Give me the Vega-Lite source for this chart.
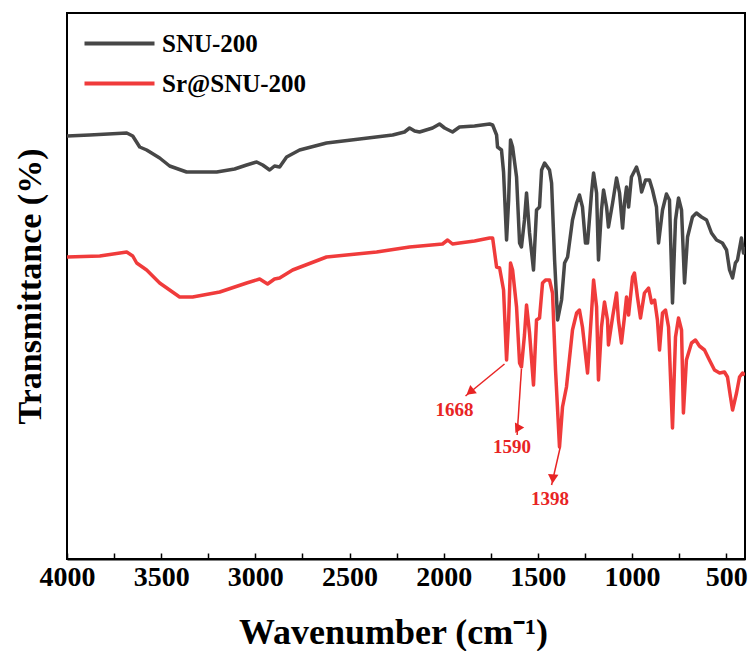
{
  "$schema": "https://vega.github.io/schema/vega-lite/v6.json",
  "width": 678,
  "height": 546,
  "autosize": "none",
  "padding": {"left": 67, "top": 13, "right": 6, "bottom": 92},
  "background": "white",
  "config": {
    "view": {"stroke": "black", "strokeWidth": 2},
    "font": "Liberation Serif",
    "axis": {"labelFont": "Liberation Serif", "titleFont": "Liberation Serif"},
    "legend": {"labelFont": "Liberation Serif"}
  },
  "datasets": {
    "spectra": [
      {"series":"SNU-200","wn":4000,"t":423},{"series":"SNU-200","wn":3880,"t":424},{"series":"SNU-200","wn":3683,"t":426},{"series":"SNU-200","wn":3651,"t":423},{"series":"SNU-200","wn":3614,"t":412},{"series":"SNU-200","wn":3577,"t":409},{"series":"SNU-200","wn":3508,"t":401},{"series":"SNU-200","wn":3455,"t":393},{"series":"SNU-200","wn":3365,"t":387},{"series":"SNU-200","wn":3205,"t":387},{"series":"SNU-200","wn":3110,"t":390},{"series":"SNU-200","wn":3046,"t":394},{"series":"SNU-200","wn":2993,"t":397},{"series":"SNU-200","wn":2961,"t":394},{"series":"SNU-200","wn":2924,"t":389},{"series":"SNU-200","wn":2898,"t":393},{"series":"SNU-200","wn":2871,"t":392},{"series":"SNU-200","wn":2834,"t":402},{"series":"SNU-200","wn":2765,"t":409},{"series":"SNU-200","wn":2622,"t":416},{"series":"SNU-200","wn":2446,"t":420},{"series":"SNU-200","wn":2271,"t":424},{"series":"SNU-200","wn":2208,"t":427},{"series":"SNU-200","wn":2181,"t":431},{"series":"SNU-200","wn":2154,"t":428},{"series":"SNU-200","wn":2128,"t":427},{"series":"SNU-200","wn":2059,"t":431},{"series":"SNU-200","wn":2022,"t":435},{"series":"SNU-200","wn":1995,"t":431},{"series":"SNU-200","wn":1953,"t":427},{"series":"SNU-200","wn":1916,"t":432},{"series":"SNU-200","wn":1836,"t":433},{"series":"SNU-200","wn":1756,"t":435},{"series":"SNU-200","wn":1740,"t":434},{"series":"SNU-200","wn":1719,"t":424},{"series":"SNU-200","wn":1714,"t":412},{"series":"SNU-200","wn":1693,"t":409},{"series":"SNU-200","wn":1682,"t":387},{"series":"SNU-200","wn":1666,"t":319},{"series":"SNU-200","wn":1655,"t":359},{"series":"SNU-200","wn":1645,"t":419},{"series":"SNU-200","wn":1634,"t":412},{"series":"SNU-200","wn":1613,"t":382},{"series":"SNU-200","wn":1597,"t":316},{"series":"SNU-200","wn":1587,"t":312},{"series":"SNU-200","wn":1571,"t":339},{"series":"SNU-200","wn":1560,"t":366},{"series":"SNU-200","wn":1544,"t":326},{"series":"SNU-200","wn":1523,"t":289},{"series":"SNU-200","wn":1507,"t":349},{"series":"SNU-200","wn":1491,"t":352},{"series":"SNU-200","wn":1480,"t":389},{"series":"SNU-200","wn":1464,"t":396},{"series":"SNU-200","wn":1438,"t":389},{"series":"SNU-200","wn":1427,"t":376},{"series":"SNU-200","wn":1411,"t":299},{"series":"SNU-200","wn":1395,"t":239},{"series":"SNU-200","wn":1374,"t":259},{"series":"SNU-200","wn":1358,"t":296},{"series":"SNU-200","wn":1342,"t":302},{"series":"SNU-200","wn":1316,"t":339},{"series":"SNU-200","wn":1294,"t":356},{"series":"SNU-200","wn":1279,"t":364},{"series":"SNU-200","wn":1263,"t":352},{"series":"SNU-200","wn":1247,"t":316},{"series":"SNU-200","wn":1236,"t":316},{"series":"SNU-200","wn":1215,"t":366},{"series":"SNU-200","wn":1204,"t":386},{"series":"SNU-200","wn":1188,"t":366},{"series":"SNU-200","wn":1178,"t":299},{"series":"SNU-200","wn":1162,"t":349},{"series":"SNU-200","wn":1151,"t":369},{"series":"SNU-200","wn":1135,"t":352},{"series":"SNU-200","wn":1125,"t":332},{"series":"SNU-200","wn":1103,"t":356},{"series":"SNU-200","wn":1082,"t":381},{"series":"SNU-200","wn":1066,"t":366},{"series":"SNU-200","wn":1050,"t":331},{"series":"SNU-200","wn":1040,"t":356},{"series":"SNU-200","wn":1029,"t":372},{"series":"SNU-200","wn":1018,"t":352},{"series":"SNU-200","wn":1003,"t":382},{"series":"SNU-200","wn":976,"t":392},{"series":"SNU-200","wn":960,"t":382},{"series":"SNU-200","wn":949,"t":367},{"series":"SNU-200","wn":928,"t":379},{"series":"SNU-200","wn":907,"t":379},{"series":"SNU-200","wn":891,"t":369},{"series":"SNU-200","wn":870,"t":352},{"series":"SNU-200","wn":859,"t":316},{"series":"SNU-200","wn":838,"t":349},{"series":"SNU-200","wn":817,"t":365},{"series":"SNU-200","wn":801,"t":359},{"series":"SNU-200","wn":785,"t":256},{"series":"SNU-200","wn":769,"t":339},{"series":"SNU-200","wn":753,"t":361},{"series":"SNU-200","wn":737,"t":349},{"series":"SNU-200","wn":721,"t":276},{"series":"SNU-200","wn":705,"t":322},{"series":"SNU-200","wn":679,"t":342},{"series":"SNU-200","wn":658,"t":346},{"series":"SNU-200","wn":631,"t":342},{"series":"SNU-200","wn":604,"t":339},{"series":"SNU-200","wn":578,"t":326},{"series":"SNU-200","wn":551,"t":319},{"series":"SNU-200","wn":520,"t":316},{"series":"SNU-200","wn":498,"t":309},{"series":"SNU-200","wn":482,"t":289},{"series":"SNU-200","wn":466,"t":281},{"series":"SNU-200","wn":451,"t":296},{"series":"SNU-200","wn":440,"t":299},{"series":"SNU-200","wn":419,"t":321},{"series":"SNU-200","wn":408,"t":306},{"series":"SNU-200","wn":400,"t":312},
      {"series":"Sr@SNU-200","wn":4000,"t":302},{"series":"Sr@SNU-200","wn":3826,"t":303},{"series":"Sr@SNU-200","wn":3683,"t":307},{"series":"Sr@SNU-200","wn":3651,"t":303},{"series":"Sr@SNU-200","wn":3630,"t":296},{"series":"Sr@SNU-200","wn":3577,"t":289},{"series":"Sr@SNU-200","wn":3508,"t":276},{"series":"Sr@SNU-200","wn":3402,"t":262},{"series":"Sr@SNU-200","wn":3333,"t":262},{"series":"Sr@SNU-200","wn":3189,"t":267},{"series":"Sr@SNU-200","wn":3046,"t":276},{"series":"Sr@SNU-200","wn":2977,"t":280},{"series":"Sr@SNU-200","wn":2935,"t":275},{"series":"Sr@SNU-200","wn":2898,"t":280},{"series":"Sr@SNU-200","wn":2871,"t":281},{"series":"Sr@SNU-200","wn":2802,"t":289},{"series":"Sr@SNU-200","wn":2622,"t":302},{"series":"Sr@SNU-200","wn":2356,"t":307},{"series":"Sr@SNU-200","wn":2181,"t":312},{"series":"Sr@SNU-200","wn":2006,"t":315},{"series":"Sr@SNU-200","wn":1979,"t":319},{"series":"Sr@SNU-200","wn":1953,"t":315},{"series":"Sr@SNU-200","wn":1916,"t":316},{"series":"Sr@SNU-200","wn":1836,"t":318},{"series":"Sr@SNU-200","wn":1756,"t":321},{"series":"Sr@SNU-200","wn":1740,"t":321},{"series":"Sr@SNU-200","wn":1719,"t":292},{"series":"Sr@SNU-200","wn":1703,"t":291},{"series":"Sr@SNU-200","wn":1682,"t":269},{"series":"Sr@SNU-200","wn":1666,"t":199},{"series":"Sr@SNU-200","wn":1655,"t":239},{"series":"Sr@SNU-200","wn":1645,"t":296},{"series":"Sr@SNU-200","wn":1634,"t":289},{"series":"Sr@SNU-200","wn":1613,"t":252},{"series":"Sr@SNU-200","wn":1597,"t":196},{"series":"Sr@SNU-200","wn":1587,"t":192},{"series":"Sr@SNU-200","wn":1571,"t":224},{"series":"Sr@SNU-200","wn":1560,"t":254},{"series":"Sr@SNU-200","wn":1544,"t":226},{"series":"Sr@SNU-200","wn":1523,"t":174},{"series":"Sr@SNU-200","wn":1507,"t":239},{"series":"Sr@SNU-200","wn":1491,"t":241},{"series":"Sr@SNU-200","wn":1475,"t":276},{"series":"Sr@SNU-200","wn":1459,"t":279},{"series":"Sr@SNU-200","wn":1438,"t":279},{"series":"Sr@SNU-200","wn":1422,"t":266},{"series":"Sr@SNU-200","wn":1406,"t":189},{"series":"Sr@SNU-200","wn":1385,"t":112},{"series":"Sr@SNU-200","wn":1369,"t":152},{"series":"Sr@SNU-200","wn":1348,"t":172},{"series":"Sr@SNU-200","wn":1316,"t":229},{"series":"Sr@SNU-200","wn":1294,"t":246},{"series":"Sr@SNU-200","wn":1279,"t":249},{"series":"Sr@SNU-200","wn":1263,"t":232},{"series":"Sr@SNU-200","wn":1236,"t":186},{"series":"Sr@SNU-200","wn":1215,"t":246},{"series":"Sr@SNU-200","wn":1204,"t":279},{"series":"Sr@SNU-200","wn":1188,"t":252},{"series":"Sr@SNU-200","wn":1178,"t":179},{"series":"Sr@SNU-200","wn":1162,"t":232},{"series":"Sr@SNU-200","wn":1146,"t":257},{"series":"Sr@SNU-200","wn":1130,"t":239},{"series":"Sr@SNU-200","wn":1125,"t":214},{"series":"Sr@SNU-200","wn":1103,"t":242},{"series":"Sr@SNU-200","wn":1082,"t":266},{"series":"Sr@SNU-200","wn":1072,"t":239},{"series":"Sr@SNU-200","wn":1056,"t":216},{"series":"Sr@SNU-200","wn":1040,"t":242},{"series":"Sr@SNU-200","wn":1029,"t":262},{"series":"Sr@SNU-200","wn":1018,"t":244},{"series":"Sr@SNU-200","wn":997,"t":282},{"series":"Sr@SNU-200","wn":987,"t":286},{"series":"Sr@SNU-200","wn":971,"t":262},{"series":"Sr@SNU-200","wn":955,"t":241},{"series":"Sr@SNU-200","wn":934,"t":266},{"series":"Sr@SNU-200","wn":912,"t":271},{"series":"Sr@SNU-200","wn":896,"t":256},{"series":"Sr@SNU-200","wn":880,"t":259},{"series":"Sr@SNU-200","wn":865,"t":239},{"series":"Sr@SNU-200","wn":854,"t":209},{"series":"Sr@SNU-200","wn":838,"t":246},{"series":"Sr@SNU-200","wn":822,"t":249},{"series":"Sr@SNU-200","wn":806,"t":232},{"series":"Sr@SNU-200","wn":785,"t":131},{"series":"Sr@SNU-200","wn":769,"t":222},{"series":"Sr@SNU-200","wn":753,"t":241},{"series":"Sr@SNU-200","wn":737,"t":229},{"series":"Sr@SNU-200","wn":727,"t":146},{"series":"Sr@SNU-200","wn":711,"t":199},{"series":"Sr@SNU-200","wn":684,"t":216},{"series":"Sr@SNU-200","wn":663,"t":219},{"series":"Sr@SNU-200","wn":642,"t":213},{"series":"Sr@SNU-200","wn":615,"t":209},{"series":"Sr@SNU-200","wn":589,"t":199},{"series":"Sr@SNU-200","wn":562,"t":189},{"series":"Sr@SNU-200","wn":535,"t":186},{"series":"Sr@SNU-200","wn":509,"t":187},{"series":"Sr@SNU-200","wn":493,"t":182},{"series":"Sr@SNU-200","wn":477,"t":162},{"series":"Sr@SNU-200","wn":466,"t":149},{"series":"Sr@SNU-200","wn":445,"t":166},{"series":"Sr@SNU-200","wn":429,"t":182},{"series":"Sr@SNU-200","wn":413,"t":186},{"series":"Sr@SNU-200","wn":400,"t":184}
    ],
    "peaks": [
      {"label":"1668","wn":1677,"t":195,"tipWn":1884,"tipT":163,"headWn":1860,"headT":167,"textWn":1942,"textT":149},
      {"label":"1590","wn":1587,"t":190,"tipWn":1610,"tipT":124,"headWn":1608,"headT":130,"textWn":1637,"textT":112},
      {"label":"1398","wn":1382,"t":111,"tipWn":1427,"tipT":74,"headWn":1420,"headT":80,"textWn":1435,"textT":60}
    ]
  },
  "layer": [
    {
      "data": {"name": "spectra"},
      "mark": {"type": "line", "strokeWidth": 3.5, "clip": true, "strokeJoin": "round"},
      "encoding": {
        "x": {"field": "wn", "type": "quantitative",
          "scale": {"domain": [400, 4000], "reverse": true, "nice": false, "zero": false},
          "axis": {
            "title": "Wavenumber (cm⁻¹)", "titleFont": "Liberation Serif", "titleFontSize": 36, "titleFontWeight": "bold", "titleColor": "black",
            "titleX": 326, "titleY": 84, "titleBaseline": "alphabetic", "titleAlign": "center",
            "values": [4000,3750,3500,3250,3000,2750,2500,2250,2000,1750,1500,1250,1000,750,500],
            "labelExpr": "datum.value % 500 == 0 ? format(datum.value, 'd') : ''",
            "labelFont": "Liberation Serif", "labelFontSize": 28, "labelFontWeight": "bold", "labelColor": "black",
            "labelFlush": false, "labelOverlap": false, "labelPadding": 10,
            "tickSize": -6, "tickColor": "black", "tickWidth": 1.5,
            "domainColor": "black", "domainWidth": 2, "grid": false
          }
        },
        "y": {"field": "t", "type": "quantitative",
          "scale": {"domain": [0, 546], "nice": false, "zero": false},
          "axis": {
            "title": "Transmittance (%)", "labels": false, "ticks": false, "domain": false, "grid": false,
            "titleFont": "Liberation Serif", "titleFontSize": 34, "titleFontWeight": "bold", "titleColor": "black",
            "titleX": -37, "titleY": 273, "titleAngle": -90, "titleBaseline": "middle", "titleAlign": "center"
          }
        },
        "color": {"field": "series", "type": "nominal",
          "scale": {"domain": ["SNU-200", "Sr@SNU-200"], "range": ["#474747", "#f03b3b"]},
          "legend": {
            "orient": "none", "legendX": 40, "legendY": 18, "title": null,
            "symbolType": "M-3.5,0H3.5", "symbolSize": 400, "symbolStrokeWidth": 4, "symbolOpacity": 1,
            "labelFont": "Liberation Serif", "labelFontSize": 25, "labelFontWeight": "bold", "labelColor": "black",
            "rowPadding": 14, "labelOffset": 30
          }
        }
      }
    },
    {
      "data": {"name": "peaks"},
      "mark": {"type": "rule", "color": "#e82424", "strokeWidth": 1.5},
      "encoding": {
        "x": {"field": "wn", "type": "quantitative"},
        "y": {"field": "t", "type": "quantitative"},
        "x2": {"field": "tipWn"},
        "y2": {"field": "tipT"}
      }
    },
    {
      "data": {"name": "peaks"},
      "mark": {"type": "point", "shape": "triangle-down", "filled": true, "color": "#e82424", "opacity": 1, "size": 110},
      "encoding": {
        "x": {"field": "headWn", "type": "quantitative"},
        "y": {"field": "headT", "type": "quantitative"},
        "angle": {"field": "label", "type": "nominal", "scale": {"domain": ["1668", "1590", "1398"], "range": [51, 4, 13]}, "legend": null}
      }
    },
    {
      "data": {"name": "peaks"},
      "mark": {"type": "text", "color": "#e82424", "font": "Liberation Serif", "fontSize": 19, "fontWeight": "bold", "baseline": "middle", "align": "center"},
      "encoding": {
        "x": {"field": "textWn", "type": "quantitative"},
        "y": {"field": "textT", "type": "quantitative"},
        "text": {"field": "label"}
      }
    }
  ]
}
